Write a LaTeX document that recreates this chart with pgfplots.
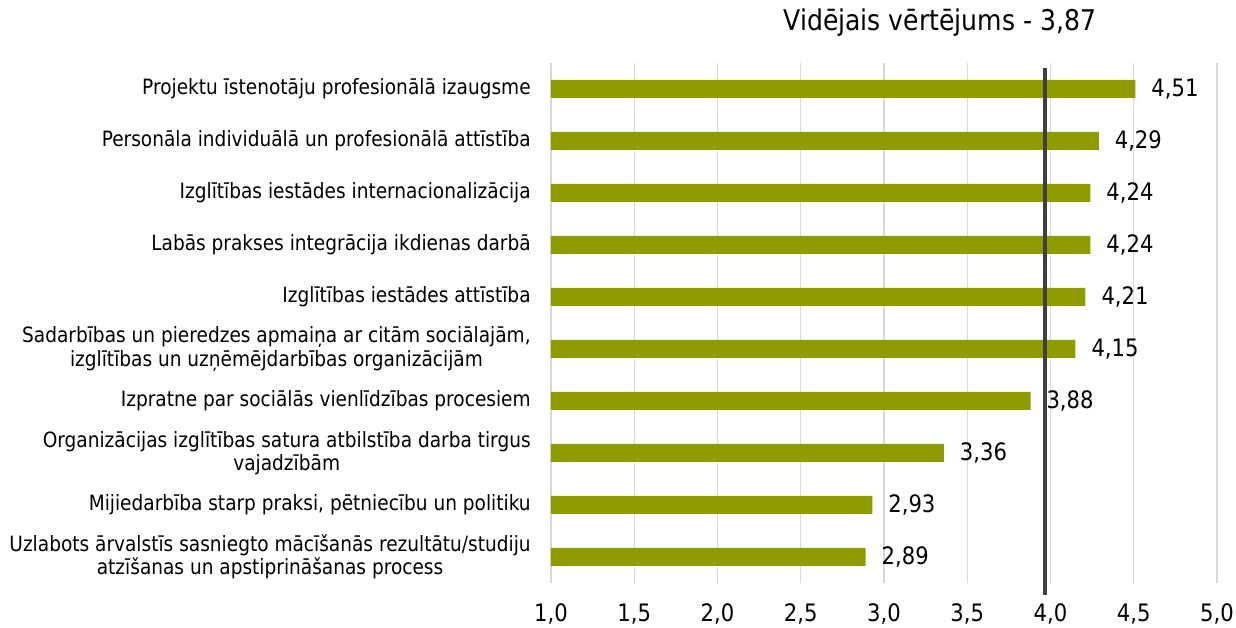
\documentclass[border=0pt]{standalone}
\usepackage{fontspec}
\setmainfont{DejaVu Sans}[FakeStretch=0.88]
\usepackage{pgfplots}
\pgfplotsset{compat=1.18}
\definecolor{barc}{RGB}{143,156,0}
\definecolor{gridc}{RGB}{217,217,217}
\definecolor{linec}{RGB}{64,64,64}
\begin{document}
\begin{tikzpicture}
\useasboundingbox (-413.25pt,-33.75pt) rectangle (513.75pt,437.25pt);
\begin{axis}[
  at={(0,0)}, anchor=south west,
  scale only axis, width=499.5pt, height=390pt,
  xbar, bar width=13.5pt,
  xmin=1, xmax=5, ymin=-0.5, ymax=9.5,
  xtick={1,1.5,2,2.5,3,3.5,4,4.5,5},
  ytick={0,1,2,3,4,5,6,7,8,9},
  yticklabels={
    {Uzlabots ārvalstīs sasniegto mācīšanās rezultātu/studiju\\atzīšanas un apstiprināšanas process},
    {Mijiedarbība starp praksi, pētniecību un politiku},
    {Organizācijas izglītības satura atbilstība darba tirgus\\vajadzībām},
    {Izpratne par sociālās vienlīdzības procesiem},
    {Sadarbības un pieredzes apmaiņa ar citām sociālajām,\\izglītības un uzņēmējdarbības organizācijām},
    {Izglītības iestādes attīstība},
    {Labās prakses integrācija ikdienas darbā},
    {Izglītības iestādes internacionalizācija},
    {Personāla individuālā un profesionālā attīstība},
    {Projektu īstenotāju profesionālā izaugsme}},
  yticklabel style={align=center, font=\fontsize{15.8}{17.5}\selectfont, xshift=-11.75pt},
  xticklabel style={font=\fontsize{18}{21}\selectfont, yshift=-12pt,
    /pgf/number format/.cd, fixed, fixed zerofill, precision=1, use comma},
  /pgf/number format/assume math mode=true,
  axis line style={draw=none},
  major tick length=0pt,
  xmajorgrids, ymajorgrids=false,
  major grid style={gridc, line width=1pt},
  nodes near coords,
  nodes near coords style={font=\fontsize{18}{21}\selectfont, xshift=8.5pt,
    /pgf/number format/.cd, fixed, fixed zerofill, precision=2, use comma, assume math mode=true},
]
\addplot[fill=barc, draw=none] coordinates {
  (2.89,0) (2.93,1) (3.36,2) (3.88,3) (4.15,4) (4.21,5) (4.24,6) (4.24,7) (4.29,8) (4.51,9)};
\end{axis}
\begin{axis}[
  at={(0,0)}, anchor=south west,
  scale only axis, width=499.5pt, height=390pt,
  xmin=1, xmax=5, ymin=-0.5, ymax=9.5,
  hide axis, clip=false]
\addplot[linec, line width=3pt] coordinates {(3.965,-0.73) (3.965,9.404)};
\node[font=\fontsize{21.4}{24}\selectfont] at (rel axis cs:0.584,1) [yshift=30pt] {Vidējais vērtējums - 3,87};
\end{axis}
\end{tikzpicture}
\end{document}
